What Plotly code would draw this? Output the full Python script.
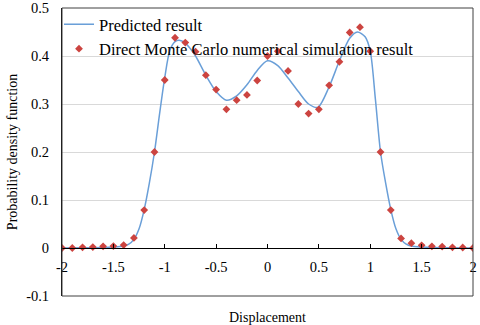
import plotly.graph_objects as go

# Direct Monte Carlo simulation points
mc_x = [-2.0, -1.9, -1.8, -1.7, -1.6, -1.5, -1.4, -1.3, -1.2, -1.1, -1.0, -0.9, -0.8, -0.7, -0.6, -0.5,
        -0.4, -0.3, -0.2, -0.1, 0.0, 0.1, 0.2, 0.3, 0.4, 0.5, 0.6, 0.7, 0.8, 0.9, 1.0, 1.1, 1.2, 1.3,
        1.4, 1.5, 1.6, 1.7, 1.8, 1.9, 2.0]
mc_y = [0.0, 0.0, 0.0015, 0.002, 0.0035, 0.004, 0.006, 0.021, 0.079, 0.2, 0.35, 0.438, 0.428, 0.409,
        0.36, 0.33, 0.289, 0.308, 0.319, 0.349, 0.40, 0.41, 0.369, 0.30, 0.28, 0.289, 0.339, 0.388,
        0.449, 0.46, 0.41, 0.20, 0.079, 0.02, 0.01, 0.0056, 0.0035, 0.003, 0.0015, 0.001, 0.0]

# Predicted result curve
pr_x = [-2.0, -1.8, -1.6, -1.5, -1.4, -1.35, -1.3, -1.25, -1.2, -1.15, -1.1, -1.05, -1.0, -0.95, -0.9,
        -0.86, -0.8, -0.75, -0.7, -0.6, -0.5, -0.4, -0.3, -0.2, -0.1, 0.0, 0.1, 0.2, 0.3, 0.4, 0.49,
        0.6, 0.7, 0.8, 0.875, 0.95, 1.0, 1.05, 1.1, 1.15, 1.2, 1.25, 1.3, 1.35, 1.4, 1.5, 1.6, 1.8, 2.0]
pr_y = [0.0, 0.0005, 0.001, 0.002, 0.004, 0.008, 0.018, 0.04, 0.08, 0.135, 0.20, 0.28, 0.355, 0.412,
        0.43, 0.433, 0.427, 0.415, 0.40, 0.36, 0.326, 0.308, 0.317, 0.34, 0.37, 0.39, 0.38, 0.354,
        0.326, 0.30, 0.293, 0.336, 0.39, 0.437, 0.45, 0.44, 0.41, 0.31, 0.20, 0.135, 0.08, 0.04,
        0.018, 0.008, 0.004, 0.002, 0.001, 0.0005, 0.0]

x_ticks = [-2, -1.5, -1, -0.5, 0, 0.5, 1, 1.5, 2]
x_tick_labels = ["-2", "-1.5", "-1", "-0.5", "0", "0.5", "1", "1.5", "2"]
y_ticks = [-0.1, 0, 0.1, 0.2, 0.3, 0.4, 0.5]
y_tick_labels = ["-0.1", "0", "0.1", "0.2", "0.3", "0.4", "0.5"]

FONT = "Liberation Serif"
TICK_FS = 14.5
LEG_FS = 16.5
TITLE_FS = 14

fig = go.Figure()
fig.add_trace(go.Scatter(
    x=pr_x, y=pr_y, mode="lines", name="Predicted result",
    line=dict(color="#6a9fd8", width=1.5, shape="spline", smoothing=0.8),
))
fig.add_trace(go.Scatter(
    x=mc_x, y=mc_y, mode="markers", name="Direct Monte Carlo numerical simulation result",
    marker=dict(symbol="diamond", size=6, color="#cc4440"),
))

fig.update_layout(
    width=480, height=325,
    margin=dict(l=62, r=7, t=8, b=29, autoexpand=False),
    paper_bgcolor="white", plot_bgcolor="white",
    font=dict(family=FONT, size=TICK_FS, color="black"),
    showlegend=True,
    legend=dict(x=-3 / 411, y=1.0 + 1 / 288, xanchor="left", yanchor="top", bgcolor="rgba(0,0,0,0)",
                font=dict(family=FONT, size=LEG_FS), tracegroupgap=0, itemwidth=30),
    xaxis=dict(
        range=[-2, 2], tickvals=x_ticks, ticktext=x_tick_labels,
        anchor="free", position=1/6, automargin=False,
        showline=True, linecolor="black", linewidth=1,
        ticks="inside", ticklen=4, tickcolor="black",
        showgrid=False, zeroline=False, ticklabelstandoff=6,
        tickfont=dict(family=FONT, size=TICK_FS),
    ),
    yaxis=dict(
        range=[-0.1, 0.5], tickvals=y_ticks, ticktext=y_tick_labels, automargin=False,
        showline=True, linecolor="black", linewidth=1,
        showgrid=True, gridcolor="#d9d9d9", gridwidth=1,
        zeroline=False, ticks="", ticklabelstandoff=9,
        tickfont=dict(family=FONT, size=TICK_FS),
        title=dict(text="Probability density function", font=dict(family=FONT, size=TITLE_FS), standoff=5),
    ),
    shapes=[dict(type="rect", xref="paper", yref="paper", x0=0, x1=1, y0=0, y1=1,
                 line=dict(color="#404040", width=1), fillcolor="rgba(0,0,0,0)", layer="above")],
    annotations=[dict(text="Displacement", xref="paper", yref="paper", x=0.5, y=0,
                      yshift=-21, yanchor="middle", showarrow=False,
                      font=dict(family=FONT, size=TITLE_FS))],
)

fig.write_html("out.html", config={"displayModeBar": False},
               post_script="document.body.style.margin='0';document.body.style.overflow='hidden';")
